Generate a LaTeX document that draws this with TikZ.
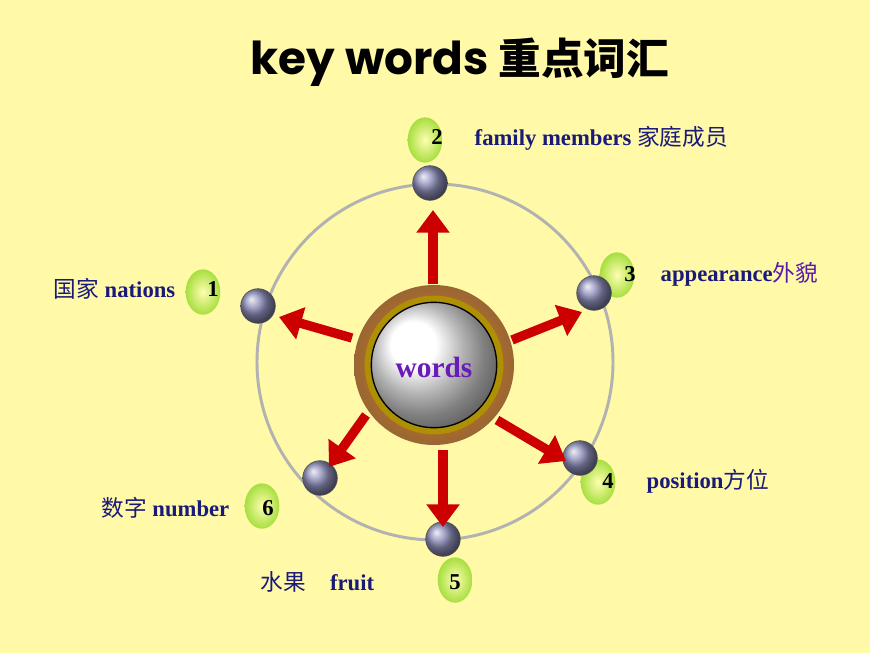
\documentclass[tikz,border=0pt]{standalone}
\usepackage{fontspec}
\setmainfont{Liberation Serif}
\newfontfamily\cjk{Noto Sans CJK SC}
\newfontfamily\titlefont{Poppins}
\usepackage{tikz}
\usetikzlibrary{arrows.meta,shapes.geometric}
\definecolor{bgyellow}{HTML}{FFF9A8}
\definecolor{navy}{HTML}{1A1A7A}
\definecolor{wordpurple}{HTML}{6A1AB8}
\definecolor{arrowred}{HTML}{CC0000}
\tikzset{
  dot/.style={circle,draw=gray!60!black,inner sep=0pt,minimum size=26pt,ball color=blue!25!gray!70},
  drop/.style={ellipse,inner sep=0pt,minimum width=26pt,minimum height=34pt,shading=radial,inner color=yellow!30!white,outer color=green!40!yellow!70!gray,opacity=0.8},
  num/.style={font=\bfseries\fontsize{17pt}{17pt}\selectfont},
  lbl/.style={text=navy,font=\bfseries\fontsize{17pt}{17pt}\selectfont},
  spoke/.style={arrowred,line width=7pt,-{Triangle[length=17pt,width=24pt]}}
}
\begin{document}
\begin{tikzpicture}[x=0.75pt,y=-0.75pt]
  \fill[bgyellow] (0,0) rectangle (870,653);
  \useasboundingbox (0,0) rectangle (870,653);

  % title
  \node (title) at (460,62) {\titlefont\bfseries\fontsize{34pt}{34pt}\selectfont key words \cjk\fontsize{32pt}{32pt}\selectfont 重点词汇};

  % the ring
  \draw[gray!60,line width=2.2pt] (435,362) circle (178);

  % droplets
  \foreach \x/\y in {425/140, 203/292, 617/275, 598/482, 455/580, 262/506}{%
    \node[drop] at (\x,\y) {};
  }

  % centre
  \node[circle,minimum size=120pt,inner sep=0pt,shading=radial,inner color=orange!70!brown,outer color=brown!80!black] (hub) at (434,365) {};
  \node[circle,minimum size=104pt,inner sep=0pt,fill=olive!70!orange] at (434,365) {};
  \node[circle,minimum size=94pt,inner sep=0pt,draw=black,line width=1pt,ball color=white] (core) at (434,365) {};
  \node[text=wordpurple,font=\bfseries\fontsize{22pt}{22pt}\selectfont] (words) at (434,367) {words};

  % dots on the ring
  \node[dot] (d2) at (430,183) {};
  \node[dot] (d1) at (258,306) {};
  \node[dot] (d3) at (594,293) {};
  \node[dot] (d4) at (580,458) {};
  \node[dot] (d5) at (443,539) {};
  \node[dot] (d6) at (320,478) {};

  % spokes
  \coordinate (s2) at (433,284); \coordinate (e2) at (433,210);
  \coordinate (s1) at (352,338); \coordinate (e1) at (279,317);
  \coordinate (s3) at (512,340); \coordinate (e3) at (582,312);
  \coordinate (s4) at (497,420); \coordinate (e4) at (566,461);
  \coordinate (s5) at (443,450); \coordinate (e5) at (443,527);
  \coordinate (s6) at (366,415); \coordinate (e6) at (329,467);
  \foreach \i in {1,...,6}{%
    \draw[spoke] (s\i) -- (e\i);
  }

  % numbers
  \node[num] (n2) at (437,137) {2};
  \node[num] (n1) at (213,289) {1};
  \node[num] (n3) at (630,274) {3};
  \node[num] (n4) at (608,481) {4};
  \node[num] (n5) at (455,582) {5};
  \node[num] (n6) at (268,508) {6};

  % labels
  \node[lbl,anchor=west] (l2) at (470,138) {family members {\cjk\mdseries 家庭成员}};
  \node[lbl,anchor=east] (l1) at (180,289) {{\cjk\mdseries 国家} nations};
  \node[lbl,anchor=west] (l3) at (656,274) {appearance{\cjk\mdseries\color{wordpurple!80!navy}外貌}};
  \node[lbl,anchor=west] (l4) at (642,481) {position{\cjk\mdseries 方位}};
  \node[lbl,anchor=east] (l6) at (234,508) {{\cjk\mdseries 数字} number};
  \node[lbl,anchor=west] (l5) at (256,582) {{\cjk\mdseries 水果}\hspace{18pt}fruit};
\end{tikzpicture}
\end{document}
